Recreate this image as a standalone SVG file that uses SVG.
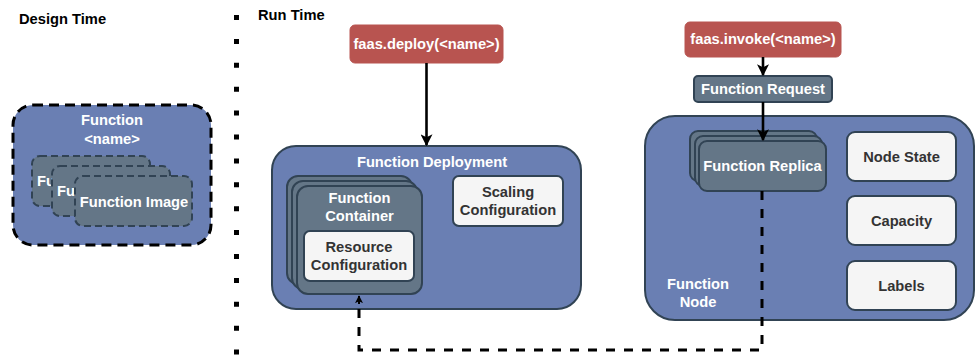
<svg xmlns="http://www.w3.org/2000/svg" width="976" height="355" viewBox="0 0 976 355">
<style>
text{font-family:"Liberation Sans",Arial,sans-serif;font-weight:bold;font-size:14.7px}
.w{fill:#ffffff}
.d{fill:#333333}
.k{fill:#000000}
.c{text-anchor:middle}
.blue{fill:#6a7fb3;stroke:#314354;stroke-width:2}
.gray{fill:#647687;stroke:#314354;stroke-width:2}
.light{fill:#f5f5f5;stroke:#314354;stroke-width:2}
.red{fill:#b85450;stroke:#b85450;stroke-width:1}
.gdash{fill:#647687;stroke:#314354;stroke-width:2;stroke-dasharray:7 4}
.conn{fill:none;stroke:#000;stroke-width:2.6}
.dconn{fill:none;stroke:#000;stroke-width:3;stroke-dasharray:9 9}
</style>
<defs>
<marker id="arr" viewBox="0 0 10 10" refX="9" refY="5" markerWidth="12" markerHeight="12" markerUnits="userSpaceOnUse" orient="auto">
<path d="M0,0 L10,5 L0,10 L2.5,5 Z" fill="#000"/>
</marker>
<marker id="arrs" viewBox="0 0 10 10" refX="9" refY="5" markerWidth="8" markerHeight="8" markerUnits="userSpaceOnUse" orient="auto">
<path d="M0,0 L10,5 L0,10 L2.5,5 Z" fill="#000"/>
</marker>
</defs>

<g id="labels">
<text class="k" x="19" y="24">Design Time</text>
<text class="k" x="258" y="20">Run Time</text>
</g>

<g id="separator">
<line x1="236.5" y1="15" x2="236.5" y2="355" stroke="#000" stroke-width="5" stroke-dasharray="5 18.9"/>
</g>

<g id="function">
<rect x="13" y="105" width="198" height="140" rx="20" fill="#6a7fb3" stroke="#000" stroke-width="3" stroke-dasharray="10 6"/>
<text class="w c" x="112" y="125">Function</text>
<text class="w c" x="112" y="144">&lt;name&gt;</text>
</g>
<g id="function-image-1">
<rect class="gdash" x="32" y="156" width="118" height="50" rx="8"/>
<text class="w" x="37" y="186">Fu</text>
</g>
<g id="function-image-2">
<rect class="gdash" x="52" y="166" width="118" height="50" rx="8"/>
<text class="w" x="57" y="196">Fu</text>
</g>
<g id="function-image-3">
<rect class="gdash" x="75" y="176" width="117" height="50" rx="8"/>
<text class="w c" x="134" y="206.5">Function Image</text>
</g>

<g id="faas-deploy">
<rect class="red" x="350" y="25" width="153" height="38" rx="5"/>
<text class="w c" x="426.5" y="49">faas.deploy(&lt;name&gt;)</text>
</g>

<g id="function-deployment">
<rect class="blue" x="272" y="146" width="309" height="163" rx="24"/>
<text class="w c" x="432" y="167">Function Deployment</text>
</g>

<g id="function-container">
<rect class="gray" x="287" y="176" width="125" height="108" rx="11"/>
<rect class="gray" x="292" y="181" width="125" height="108" rx="11"/>
<rect class="gray" x="297" y="186" width="125" height="108" rx="11"/>
<text class="w c" x="359.5" y="203">Function</text>
<text class="w c" x="359.5" y="221">Container</text>
</g>

<g id="resource-configuration">
<rect class="light" x="304" y="231" width="110" height="50" rx="6"/>
<text class="d c" x="359" y="252">Resource</text>
<text class="d c" x="359" y="270">Configuration</text>
</g>

<g id="scaling-configuration">
<rect class="light" x="453" y="176" width="110" height="50" rx="6"/>
<text class="d c" x="508" y="197">Scaling</text>
<text class="d c" x="508" y="215">Configuration</text>
</g>

<g id="faas-invoke">
<rect class="red" x="685" y="22" width="156" height="35" rx="5"/>
<text class="w c" x="763" y="44">faas.invoke(&lt;name&gt;)</text>
</g>

<g id="function-request">
<rect class="gray" x="694" y="76" width="138" height="26" rx="4"/>
<text class="w c" x="763" y="94">Function Request</text>
</g>

<g id="function-node">
<rect class="blue" x="645" y="116" width="329" height="204" rx="30"/>
<text class="w c" x="698" y="289">Function</text>
<text class="w c" x="698" y="307">Node</text>
</g>

<g id="function-replica">
<rect class="gray" x="690" y="131" width="127" height="50" rx="8"/>
<rect class="gray" x="695" y="136" width="127" height="50" rx="8"/>
<rect class="gray" x="699" y="141" width="127" height="50" rx="8"/>
<text class="w c" x="762.5" y="171">Function Replica</text>
</g>

<g id="node-state">
<rect class="light" x="847" y="132" width="109" height="49" rx="8"/>
<text class="d c" x="901.5" y="162">Node State</text>
</g>
<g id="capacity">
<rect class="light" x="847" y="196" width="109" height="49" rx="8"/>
<text class="d c" x="901.5" y="226">Capacity</text>
</g>
<g id="labels-box">
<rect class="light" x="847" y="261" width="109" height="49" rx="8"/>
<text class="d c" x="901.5" y="291">Labels</text>
</g>

<g id="connectors">
<line class="conn" x1="426.5" y1="63" x2="426.5" y2="145" marker-end="url(#arr)"/>
<line class="conn" x1="763" y1="57" x2="763" y2="75" marker-end="url(#arr)"/>
<line class="conn" x1="763" y1="102" x2="763" y2="140" marker-end="url(#arr)"/>
<path class="dconn" d="M762,191 L762,350 L359,350 L359,303"/>
<line x1="359" y1="304" x2="359" y2="296" stroke="#000" stroke-width="2" marker-end="url(#arrs)"/>
</g>
</svg>
